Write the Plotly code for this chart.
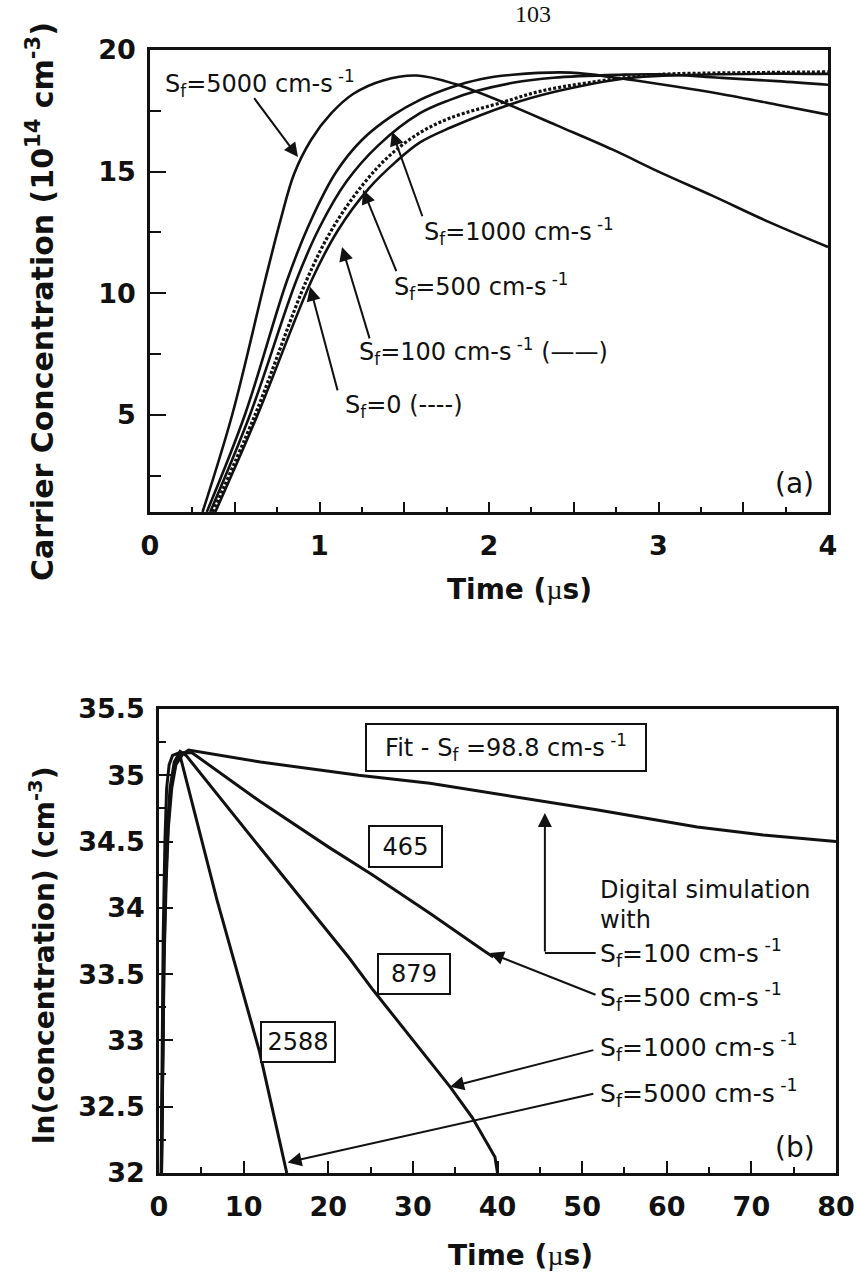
import plotly.graph_objects as go

# ---------------- panel (a): carrier concentration vs time ----------------
t_a_5000 = [0.31, 0.485, 0.68, 0.77, 0.85, 0.95, 1.07, 1.2, 1.375, 1.575, 1.8, 2.1, 2.4, 2.73, 3.0, 3.32, 3.66, 4.0]
c_a_5000 = [1.0, 5.0, 10.55, 13.0, 14.9, 16.3, 17.4, 18.2, 18.75, 18.95, 18.6, 17.8, 16.9, 15.9, 15.0, 14.0, 12.9, 11.9]

t_a_1000 = [0.335, 0.56, 0.81, 0.95, 1.10, 1.25, 1.43, 1.593, 1.77, 1.95, 2.14, 2.48, 2.81, 3.1, 3.36, 3.7, 4.0]
c_a_1000 = [1.0, 5.0, 10.55, 13.0, 15.0, 16.3, 17.3, 17.95, 18.45, 18.8, 18.98, 19.07, 18.8, 18.5, 18.2, 17.75, 17.34]

t_a_500 = [0.355, 0.59, 0.865, 1.0, 1.16, 1.35, 1.593, 1.77, 1.92, 2.14, 2.38, 2.77, 3.0, 3.36, 3.7, 4.0]
c_a_500 = [1.0, 5.0, 10.55, 12.7, 14.6, 16.1, 17.4, 17.95, 18.3, 18.65, 18.86, 18.98, 19.0, 18.86, 18.72, 18.57]

t_a_100 = [0.385, 0.635, 0.955, 1.11, 1.29, 1.45, 1.593, 1.77, 2.12, 2.4, 2.77, 3.0, 3.36, 3.7, 4.0]
c_a_100 = [1.0, 5.0, 10.55, 12.6, 14.3, 15.4, 16.2, 16.8, 17.75, 18.3, 18.8, 18.93, 19.0, 19.03, 19.02]

t_a_0 = [0.37, 0.62, 0.925, 1.08, 1.26, 1.42, 1.593, 1.77, 2.09, 2.3, 2.58, 2.97, 3.3, 3.56, 4.0]
c_a_0 = [1.0, 5.0, 10.55, 12.7, 14.5, 15.7, 16.6, 17.2, 17.87, 18.3, 18.65, 18.98, 19.05, 19.07, 19.1]

a_xticks = [0, 0.5, 1, 1.5, 2, 2.5, 3, 3.5, 4]
a_xlabels = ["0", "", "1", "", "2", "", "3", "", "4"]
a_yticks = [5, 10, 15, 20]
a_yminor = [2.5, 7.5, 12.5, 17.5]

# ---------------- panel (b): ln(concentration) vs time ----------------
t_b_5000 = [0.25, 0.35, 0.5, 0.7, 0.9, 1.2, 1.6, 2.4, 6.85, 11.9, 15.1]
v_b_5000 = [32.0, 32.9, 33.8, 34.5, 34.9, 35.08, 35.15, 35.17, 34.06, 32.91, 32.0]

t_b_1000 = [0.28, 0.4, 0.55, 0.75, 1.0, 1.3, 1.8, 2.5, 3.2, 12, 16.7, 22.5, 25.3, 30, 34.4, 37, 39.7, 40]
v_b_1000 = [32.0, 32.8, 33.6, 34.2, 34.6, 34.9, 35.1, 35.18, 35.15, 34.45, 34.08, 33.62, 33.38, 33.0, 32.65, 32.42, 32.12, 32.0]

t_b_500 = [0.3, 0.42, 0.58, 0.8, 1.05, 1.4, 1.9, 2.6, 3.9, 12, 20, 25.2, 32, 38.3, 39.5]
v_b_500 = [32.0, 32.8, 33.6, 34.2, 34.6, 34.9, 35.08, 35.17, 35.17, 34.8, 34.46, 34.25, 33.96, 33.68, 33.63]

t_b_fit = [0.3, 0.45, 0.6, 0.85, 1.1, 1.5, 2.0, 2.8, 3.5, 12, 23.6, 32, 45, 51.7, 63.6, 71.4, 80]
v_b_fit = [32.0, 32.8, 33.6, 34.2, 34.6, 34.9, 35.08, 35.16, 35.19, 35.1, 35.0, 34.94, 34.81, 34.74, 34.61, 34.55, 34.5]

b_xticks = [0, 10, 20, 30, 40, 50, 60, 70, 80]
b_yticks = [32, 32.5, 33, 33.5, 34, 34.5, 35, 35.5]
b_ylabels = ["32", "32.5", "33", "33.5", "34", "34.5", "35", "35.5"]

INK = "#111111"
TICKFONT = dict(family="DejaVu Sans", size=27, color=INK, weight="bold")
NOTE = "DejaVu Sans"

fig = go.Figure()

def curve(x, y, xa, ya, dash="solid", width=2.6, shape="spline"):
    fig.add_trace(go.Scatter(x=x, y=y, xaxis=xa, yaxis=ya, mode="lines",
                             line=dict(color=INK, width=width, dash=dash, shape=shape),
                             showlegend=False, hoverinfo="skip"))

curve(t_a_5000, c_a_5000, "x", "y")
curve(t_a_1000, c_a_1000, "x", "y")
curve(t_a_500, c_a_500, "x", "y")
curve(t_a_100, c_a_100, "x", "y")
curve(t_a_0, c_a_0, "x", "y", dash="3px,2px", width=3.2)

curve(t_b_5000, v_b_5000, "x2", "y2", width=3, shape="linear")
curve(t_b_1000, v_b_1000, "x2", "y2", width=3, shape="linear")
curve(t_b_500, v_b_500, "x2", "y2", width=3, shape="linear")
curve(t_b_fit, v_b_fit, "x2", "y2", width=3, shape="linear")

axis_common = dict(showline=True, linecolor=INK, linewidth=2.5, mirror=True,
                   showgrid=False, zeroline=False, ticks="inside", tickcolor=INK,
                   tickwidth=2, tickfont=TICKFONT, automargin=False)

fig.update_layout(
    template="none",
    width=859, height=1277,
    margin=dict(l=0, r=0, t=0, b=0, pad=0),
    paper_bgcolor="white", plot_bgcolor="white",
    xaxis=dict(domain=[150 / 859, 828 / 859], range=[0, 4], anchor="y",
               tickvals=a_xticks, ticktext=a_xlabels, ticklen=10,
               minor=dict(ticks="inside", dtick=0.25, ticklen=5, tickcolor=INK, tickwidth=2),
               ticklabelstandoff=8, **axis_common),
    yaxis=dict(domain=[1 - 512 / 1277, 1 - 50 / 1277], range=[1, 20], anchor="x",
               tickvals=a_yticks, ticklen=16,
               minor=dict(ticks="inside", tickvals=a_yminor, ticklen=11, tickcolor=INK, tickwidth=2),
               ticklabelstandoff=6, **axis_common),
    xaxis2=dict(domain=[159 / 859, 836 / 859], range=[0, 80], anchor="y2",
                tickvals=b_xticks, ticklen=12,
                minor=dict(ticks="inside", dtick=5, ticklen=6, tickcolor=INK, tickwidth=2),
                ticklabelstandoff=8, **axis_common),
    yaxis2=dict(domain=[1 - 1173 / 1277, 1 - 709 / 1277], range=[32, 35.5], anchor="x2",
                tickvals=b_yticks, ticktext=b_ylabels, ticklen=14,
                minor=dict(ticks="inside", dtick=0.25, ticklen=7, tickcolor=INK, tickwidth=2),
                ticklabelstandoff=6, **axis_common),
)

def label(x, y, text, xa, ya, size, xanchor="left", weight="normal", **kw):
    fig.add_annotation(x=x, y=y, xref=xa, yref=ya, text=text, showarrow=False,
                       xanchor=xanchor, yanchor="middle",
                       font=dict(family=NOTE, size=size, color=INK, weight=weight), **kw)

def arrow(x, y, ax, ay, xa, ya):
    fig.add_annotation(x=x, y=y, ax=ax, ay=ay, xref=xa, yref=ya, axref=xa, ayref=ya,
                       text="", showarrow=True, arrowhead=2, arrowsize=1.4,
                       arrowwidth=2, arrowcolor=INK, standoff=0, startstandoff=0)

SF = "S<sub>f</sub>"
UNIT = " cm-s<sup> -1</sup>"

# panel (a) labels and pointers
label(0.077, 18.61, SF + "=5000" + UNIT, "x", "y", 24)
arrow(0.873, 15.6, 0.608, 18.08, "x", "y")
label(1.605, 12.52, SF + "=1000" + UNIT, "x", "y", 24)
arrow(1.428, 16.64, 1.61, 13.1, "x", "y")
label(1.428, 10.26, SF + "=500" + UNIT, "x", "y", 24)
arrow(1.257, 14.25, 1.457, 10.84, "x", "y")
label(1.221, 7.58, SF + "=100" + UNIT + " (——)", "x", "y", 24)
arrow(1.133, 11.9, 1.298, 8.08, "x", "y")
label(1.139, 5.32, SF + "=0 (----)", "x", "y", 24)
arrow(0.944, 10.26, 1.109, 5.94, "x", "y")
label(3.80, 2.19, "(a)", "x", "y", 28, xanchor="center")

# panel (b) boxed values
def boxed(x, y, text, w, h, size=24):
    fig.add_annotation(x=x, y=y, xref="x2", yref="y2", text=text, showarrow=False,
                       xanchor="center", yanchor="middle", width=w, height=h,
                       bordercolor=INK, borderwidth=2, borderpad=0, bgcolor="white",
                       font=dict(family=NOTE, size=size, color=INK))

boxed(41.0, 35.206, "Fit - " + SF + " =98.8" + UNIT, 278, 45)
boxed(29.13, 34.463, "465", 71, 39)
boxed(30.13, 33.50, "879", 70, 38)
boxed(16.43, 32.99, "2588", 72, 38)

label(51.9, 34.135, "Digital simulation", "x2", "y2", 24)
label(51.9, 33.905, "with", "x2", "y2", 24)
label(51.9, 33.66, SF + "=100" + UNIT, "x2", "y2", 25)
label(51.9, 33.33, SF + "=500" + UNIT, "x2", "y2", 25)
label(51.9, 32.95, SF + "=1000" + UNIT, "x2", "y2", 25)
label(51.9, 32.60, SF + "=5000" + UNIT, "x2", "y2", 25)
label(75.2, 32.19, "(b)", "x2", "y2", 28, xanchor="center")

# elbow leader to the fitted line
fig.add_shape(type="line", xref="x2", yref="y2", x0=45.6, y0=33.66, x1=51.6, y1=33.66,
              line=dict(color=INK, width=2))
arrow(45.6, 34.716, 45.6, 33.66, "x2", "y2")
arrow(39.1, 33.66, 51.76, 33.34, "x2", "y2")
arrow(34.4, 32.65, 51.5, 32.93, "x2", "y2")
arrow(15.2, 32.08, 51.5, 32.60, "x2", "y2")

# axis titles and page number
MU = "<span style='font-family:Liberation Serif;font-weight:normal'>µ</span>"
TITLE = dict(family="DejaVu Sans", size=28, color=INK, weight="bold")

def paper_text(px, py, text, font, angle=0):
    fig.add_annotation(x=px / 859, y=1 - py / 1277, xref="paper", yref="paper",
                       xanchor="center", yanchor="middle", textangle=angle,
                       text=text, showarrow=False, font=font)

paper_text(519, 590, "Time (" + MU + "s)", TITLE)
paper_text(520, 1255, "Time (" + MU + "s)", TITLE)
paper_text(40, 302, "Carrier Concentration (10<sup>14</sup> cm<sup>-3</sup>)",
           dict(TITLE, size=30), -90)
paper_text(42, 955, "ln(concentration) (cm<sup>-3</sup>)", TITLE, -90)
paper_text(533, 14, "103", dict(family="Liberation Serif", size=24, color=INK))

fig.write_html("out.html")
